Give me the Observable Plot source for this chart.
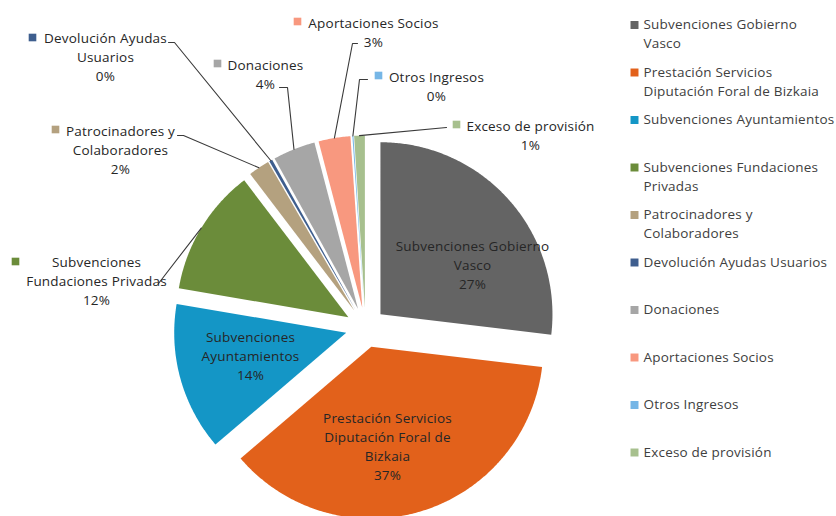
<!DOCTYPE html>
<html><head><meta charset="utf-8">
<script src="https://cdn.jsdelivr.net/npm/d3@7"></script>
<script src="https://cdn.jsdelivr.net/npm/@observablehq/plot@0.6"></script>
<style>body{margin:0;background:#fff} #chart svg{display:block}</style>
</head><body><div id="chart"></div>
<script>
// ---- data ----
const categories = ["Subvenciones Gobierno Vasco","Prestación Servicios Diputación Foral de Bizkaia","Subvenciones Ayuntamientos","Subvenciones Fundaciones Privadas","Patrocinadores y Colaboradores","Devolución Ayudas Usuarios","Donaciones","Aportaciones Socios","Otros Ingresos","Exceso de provisión"];
const values = [27, 37, 14, 12, 2, 0.3, 4, 3, 0.1, 1];
const colors = ["#646464","#E2611B","#1496C6","#6B8C3A","#B4A17F","#3E5E8E","#A6A6A6","#F8987F","#76B6E6","#A7C08E"];
const legendLines = [["Subvenciones Gobierno","Vasco"],["Prestación Servicios","Diputación Foral de Bizkaia"],["Subvenciones Ayuntamientos"],["Subvenciones Fundaciones","Privadas"],["Patrocinadores y","Colaboradores"],["Devolución Ayudas Usuarios"],["Donaciones"],["Aportaciones Socios"],["Otros Ingresos"],["Exceso de provisión"]];
const labelLines = [["Subvenciones Gobierno","Vasco"],["Prestación Servicios","Diputación Foral de","Bizkaia"],["Subvenciones","Ayuntamientos"],["Subvenciones","Fundaciones Privadas"],["Patrocinadores y","Colaboradores"],["Devolución Ayudas","Usuarios"],["Donaciones"],["Aportaciones Socios"],["Otros Ingresos"],["Exceso de provisión"]];

// ---- layout ----
const W = 836, H = 516;
const pie = {cx: 365, cy: 327, r: 172, explode: 20};
const lineH = 19;
const labelLayout = [
  {x: 472, y: 246},
  {x: 387, y: 418},
  {x: 250, y: 337.5},
  {x: 96, y: 262, key: [15, 261], lead: [[158, 283]]},
  {x: 120, y: 131, key: [55, 129], lead: [[177, 135], [183, 135]]},
  {x: 105, y: 38.5, key: [32, 37], lead: [[168, 42], [174, 42]]},
  {x: 265, y: 65.5, key: [217, 63], lead: [[279, 87], [287, 87]]},
  {x: 373, y: 23, key: [297, 21], lead: [[357, 43], [352, 43]]},
  {x: 436, y: 77.5, key: [378, 75], lead: [[367, 79], [359, 79]]},
  {x: 530, y: 126, key: [456, 124], lead: [[446, 127]]}
];
const legend = {keyX: 634, textX: 643, y0: 24.5, step: 47.5};

// ---- derived geometry ----
const total = d3.sum(values);
const rad = Math.PI / 180;
let acc = 0;
const slices = values.map((v, i) => {
  const a0 = acc / total * 360, a1 = (acc + v) / total * 360;
  acc += v;
  const m = (a0 + a1) / 2;
  const ax = pie.cx + pie.explode * Math.sin(m * rad);
  const ay = pie.cy - pie.explode * Math.cos(m * rad);
  return {cat: categories[i], i, a0, a1, m, ax, ay, pct: Math.round(v / total * 100) + "%"};
});
const slicePts = [];
for (const s of slices) {
  slicePts.push({cat: s.cat, x: s.ax, y: s.ay});
  const n = Math.max(2, Math.ceil((s.a1 - s.a0) / 0.5));
  for (let k = 0; k <= n; k++) {
    const t = (s.a0 + (s.a1 - s.a0) * k / n) * rad;
    slicePts.push({cat: s.cat, x: s.ax + pie.r * Math.sin(t), y: s.ay - pie.r * Math.cos(t)});
  }
}
const leadPts = [];
slices.forEach((s, i) => {
  const L = labelLayout[i];
  if (!L.lead) return;
  L.lead.forEach(p => leadPts.push({cat: s.cat, x: p[0], y: p[1]}));
  leadPts.push({cat: s.cat, x: s.ax + pie.r * Math.sin(s.m * rad), y: s.ay - pie.r * Math.cos(s.m * rad)});
});
const labelRows = [];
slices.forEach((s, i) => {
  const L = labelLayout[i];
  [...labelLines[i], s.pct].forEach((t, k) => labelRows.push({text: t, x: L.x, y: L.y + k * lineH}));
});
const labelKeys = slices.filter((s, i) => labelLayout[i].key).map(s => ({cat: s.cat, x: labelLayout[s.i].key[0], y: labelLayout[s.i].key[1]}));
const legendKeys = categories.map((c, i) => ({cat: c, x: legend.keyX, y: legend.y0 + i * legend.step}));
const legendRows = [];
legendLines.forEach((ls, i) => ls.forEach((t, k) => legendRows.push({text: t, x: legend.textX, y: legend.y0 + i * legend.step + k * lineH})));

const font = "'Open Sans', Lato, sans-serif";
const chart = Plot.plot({
  width: W, height: H, margin: 0,
  style: {fontFamily: font, background: "#fff", letterSpacing: "0.2px"},
  x: {type: "linear", domain: [0, W], range: [0, W], axis: null},
  y: {type: "linear", domain: [0, H], range: [0, H], axis: null},
  color: {domain: categories, range: colors},
  marks: [
    Plot.line(slicePts, {x: "x", y: "y", z: "cat", fill: "cat", stroke: "none", curve: "linear-closed"}),
    Plot.line(leadPts, {x: "x", y: "y", z: "cat", stroke: "#3a3a3a", strokeWidth: 1.1}),
    Plot.dot(labelKeys, {x: "x", y: "y", fill: "cat", symbol: "square", r: 4.3}),
    Plot.dot(legendKeys, {x: "x", y: "y", fill: "cat", symbol: "square", r: 4.5}),
    Plot.text(labelRows, {x: "x", y: "y", text: "text", fontSize: 13.5, fill: "#262626", textAnchor: "middle"}),
    Plot.text(legendRows, {x: "x", y: "y", text: "text", fontSize: 13.5, fill: "#404040", textAnchor: "start"})
  ]
});
document.getElementById("chart").appendChild(chart);
</script>
</body></html>
